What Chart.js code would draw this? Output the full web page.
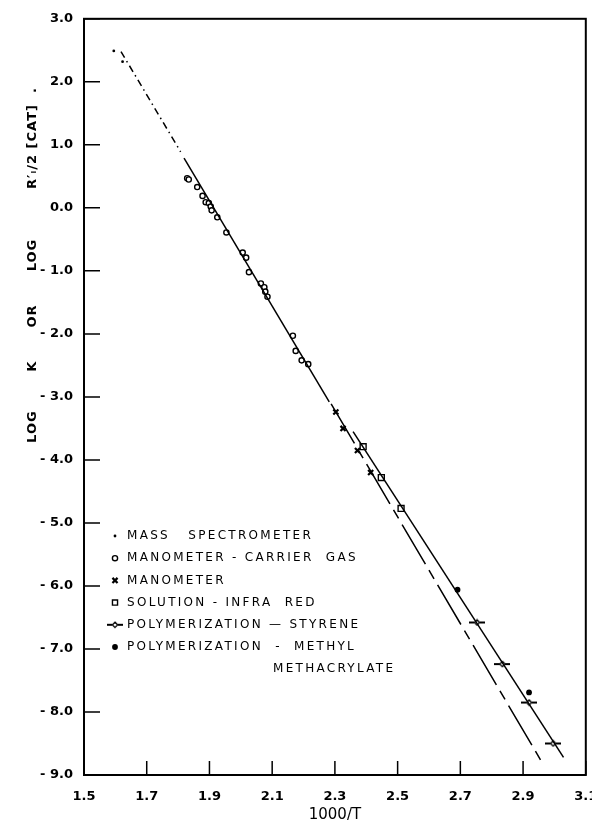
<!DOCTYPE html>
<html>
<head>
<meta charset="utf-8">
<script src="https://cdn.jsdelivr.net/npm/chart.js@4.4.1/dist/chart.umd.min.js"></script>
<style>
  html, body { margin: 0; padding: 0; background: #fff; }
  #wrap { width: 592px; height: 824px; }
</style>
</head>
<body>
<div id="wrap"><canvas id="chart"></canvas></div>
<script>
// Values: x = 1000/T, y = log k

// mass spectrometer
const massSpecX = [1.595, 1.623];
const massSpecY = [2.49, 2.32];

// manometer - carrier gas
const carrierX = [1.829, 1.834, 1.861, 1.878, 1.888, 1.898, 1.904, 1.907, 1.925, 1.954,
                  2.006, 2.017, 2.026, 2.064, 2.075, 2.078, 2.085, 2.166, 2.175, 2.194, 2.215];
const carrierY = [0.47, 0.45, 0.33, 0.19, 0.09, 0.075, 0.02, -0.04, -0.15, -0.39,
                  -0.71, -0.79, -1.02, -1.20, -1.26, -1.33, -1.41, -2.03, -2.27, -2.42, -2.48];

// manometer
const manoX = [2.303, 2.326, 2.372, 2.414];
const manoY = [-3.24, -3.50, -3.85, -4.20];

// solution - infra red
const irX = [2.390, 2.448, 2.511];
const irY = [-3.79, -4.28, -4.77];

// polymerization - styrene
const styreneX = [2.753, 2.834, 2.919, 2.996];
const styreneY = [-6.58, -7.24, -7.85, -8.50];

// polymerization - methyl methacrylate
const mmaX = [2.691, 2.919];
const mmaY = [-6.06, -7.69];

// drawn lines (end points)
const extrapX = [1.618, 1.808];   // dash-dot, high temperature end
const extrapY = [2.48, 0.89];
const gasLineX = [1.819, 2.282];  // solid through carrier gas points
const gasLineY = [0.79, -3.08];
const manoLineX = [2.288, 2.958]; // long dash through manometer points
const manoLineY = [-3.11, -8.78];
const solLineX = [2.358, 3.029];  // solid through solution / polymerization
const solLineY = [-3.55, -8.72];

// axes
const xTicks = [1.5, 1.7, 1.9, 2.1, 2.3, 2.5, 2.7, 2.9, 3.1];
const yTicks = [3, 2, 1, 0, -1, -2, -3, -4, -5, -6, -7, -8, -9];
const xTitle = '1000/T';
const yTitle = 'LOG       K      OR      LOG         R\u2032\u1D62/2 [CAT]  .';

const pts = (xs, ys) => xs.map((x, i) => ({ x: x, y: ys[i] }));

// -<>- marker for the styrene runs
function styreneMark() {
  const c = document.createElement('canvas');
  c.width = 16; c.height = 8;
  const g = c.getContext('2d');
  g.strokeStyle = '#000';
  g.lineWidth = 2;
  g.beginPath();
  g.moveTo(0, 4); g.lineTo(5, 4);
  g.moveTo(11, 4); g.lineTo(16, 4);
  g.stroke();
  g.lineWidth = 1.3;
  g.beginPath();
  g.moveTo(8, 1.3); g.lineTo(10.7, 4); g.lineTo(8, 6.7); g.lineTo(5.3, 4); g.closePath();
  g.fillStyle = '#fff';
  g.fill();
  g.stroke();
  return c;
}
const styreneIcon = styreneMark();

const lineDs = (label, xs, ys, dash) => ({
  label: label, data: pts(xs, ys), showLine: true, fill: false,
  borderColor: '#000', borderWidth: 1.5, borderDash: dash, pointRadius: 0,
  legendSkip: true
});

const datasets = [
  lineDs('extrapolation', extrapX, extrapY, [7, 4, 1.5, 4]),
  lineDs('fit gas', gasLineX, gasLineY, []),
  lineDs('fit manometer', manoLineX, manoLineY, [46, 7, 10, 7]),
  lineDs('fit solution', solLineX, solLineY, []),
  { label: 'MASS   SPECTROMETER', data: pts(massSpecX, massSpecY),
    pointStyle: 'circle', pointRadius: 1.4, backgroundColor: '#000', borderColor: '#000', borderWidth: 0 },
  { label: 'MANOMETER - CARRIER  GAS', data: pts(carrierX, carrierY),
    pointStyle: 'circle', pointRadius: 2.6, backgroundColor: '#fff', borderColor: '#000', borderWidth: 1.4 },
  { label: 'MANOMETER', data: pts(manoX, manoY),
    pointStyle: 'crossRot', pointRadius: 3.6, backgroundColor: '#000', borderColor: '#000', borderWidth: 2.2 },
  { label: 'SOLUTION - INFRA  RED', data: pts(irX, irY),
    pointStyle: 'rect', pointRadius: 4.2, backgroundColor: '#fff', borderColor: '#000', borderWidth: 1.4 },
  { label: 'POLYMERIZATION \u2014 STYRENE', data: pts(styreneX, styreneY),
    pointStyle: styreneIcon, pointRadius: 4, backgroundColor: '#fff', borderColor: '#000', borderWidth: 1 },
  { label: 'POLYMERIZATION  -  METHYL', extra: 'METHACRYLATE', data: pts(mmaX, mmaY),
    pointStyle: 'circle', pointRadius: 2.9, backgroundColor: '#000', borderColor: '#000', borderWidth: 0 }
];

// frame, inward ticks, y title and legend box inside the plot
const decor = {
  id: 'decor',
  afterDatasetsDraw(chart) {
    const { ctx, chartArea: a, scales: { x, y } } = chart;
    ctx.save();
    ctx.strokeStyle = '#000';
    ctx.lineWidth = 1.5;
    ctx.beginPath();
    x.ticks.forEach(t => {
      const px = x.getPixelForValue(t.value);
      ctx.moveTo(px, a.bottom); ctx.lineTo(px, a.bottom - 14);
    });
    y.ticks.forEach(t => {
      const py = y.getPixelForValue(t.value);
      ctx.moveTo(a.left, py); ctx.lineTo(a.left + 16, py);
    });
    ctx.stroke();
    ctx.lineWidth = 2;
    ctx.strokeRect(a.left, a.top, a.right - a.left, a.bottom - a.top);

    // y axis title
    ctx.save();
    ctx.translate(33, 265);
    ctx.rotate(-Math.PI / 2);
    ctx.font = 'bold 13px "DejaVu Sans"';
    ctx.letterSpacing = '1px';
    ctx.fillStyle = '#000';
    ctx.textAlign = 'center';
    ctx.textBaseline = 'middle';
    ctx.fillText(yTitle, 0, 0);
    ctx.restore();

    // legend
    let row = 0;
    const markX = 115, textX = 127, top = 536, step = 22.2;
    ctx.font = '12px "DejaVu Sans"';
    ctx.letterSpacing = '2.3px';
    ctx.textBaseline = 'middle';
    chart.data.datasets.forEach(ds => {
      if (ds.legendSkip) return;
      const ly = top + row * step;
      ctx.fillStyle = ds.backgroundColor;
      ctx.strokeStyle = ds.borderColor;
      ctx.lineWidth = ds.borderWidth;
      Chart.helpers.drawPoint(ctx, {
        pointStyle: ds.pointStyle, rotation: 0,
        radius: ds.pointStyle === 'rect' ? 3.6 : ds.pointRadius,
        borderWidth: ds.borderWidth
      }, markX, ly);
      ctx.fillStyle = '#000';
      ctx.fillText(ds.label, textX, ly);
      if (ds.extra) {
        row++;
        ctx.fillText(ds.extra, 273, top + row * step);
      }
      row++;
    });
    ctx.restore();
  }
};

const tickFont = { family: '"DejaVu Sans"', size: 13, weight: 'bold' };

new Chart(document.getElementById('chart'), {
  type: 'scatter',
  data: { datasets: datasets },
  options: {
    responsive: true,
    maintainAspectRatio: false,
    animation: false,
    layout: { padding: { top: 18, left: 0, right: 0, bottom: 0 } },
    plugins: {
      legend: { display: false },
      tooltip: { enabled: false }
    },
    scales: {
      x: {
        type: 'linear',
        min: 1.5,
        max: 3.1,
        afterBuildTicks: s => { s.ticks = xTicks.map(v => ({ value: v })); },
        afterFit: s => { s.height = 49; s.paddingRight = 5; },
        grid: { display: false, drawTicks: false },
        border: { display: false },
        ticks: { color: '#000', font: tickFont, padding: 14, maxRotation: 0,
                  callback: v => v.toFixed(1) },
        title: { display: true, text: xTitle, color: '#000',
                 font: { family: '"DejaVu Sans"', size: 15 }, padding: { top: 0, bottom: 0 } }
      },
      y: {
        type: 'linear',
        min: -9,
        max: 3,
        afterBuildTicks: s => { s.ticks = yTicks.map(v => ({ value: v })); },
        afterFit: s => { s.width = 84; },
        grid: { display: false, drawTicks: false },
        border: { display: false },
        ticks: { color: '#000', font: tickFont, padding: 11,
                 callback: v => (v < 0 ? '- ' + Math.abs(v).toFixed(1) : v.toFixed(1)) }
      }
    }
  },
  plugins: [decor]
});
</script>
</body>
</html>
